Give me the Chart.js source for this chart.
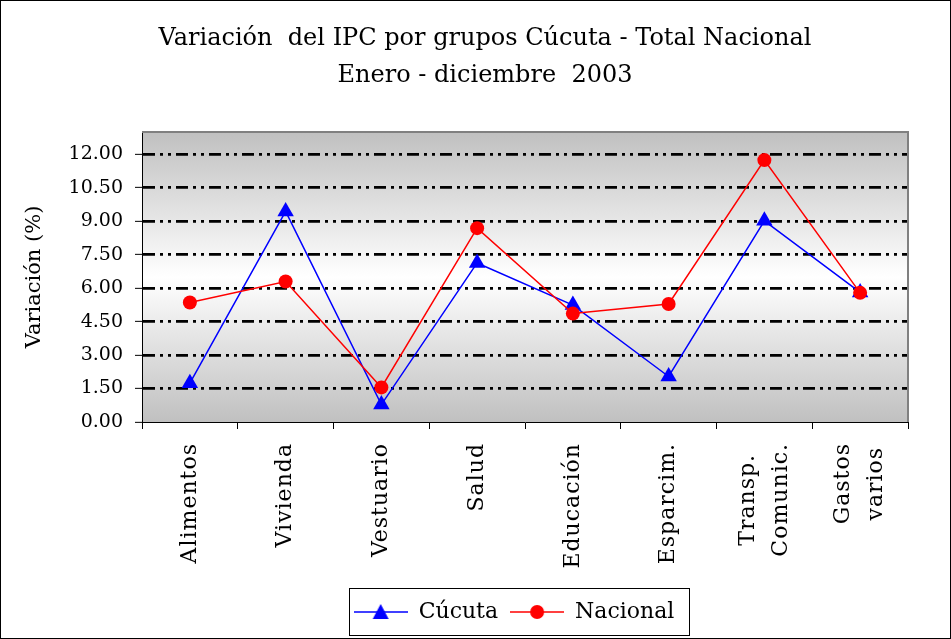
<!DOCTYPE html>
<html>
<head>
<meta charset="utf-8">
<script src="https://cdn.jsdelivr.net/npm/chart.js@4"></script>
<style>
  body { margin: 0; background: #fff; }
  canvas { display: block; }
</style>
</head>
<body>
<canvas id="myChart" width="951" height="639"></canvas>
<script>
const categories = [['Alimentos'], ['Vivienda'], ['Vestuario'], ['Salud'], ['Educación'], ['Esparcim.'], ['Transp.', 'Comunic.'], ['Gastos', 'varios']];
const cucuta = [1.74, 9.44, 0.78, 7.13, 5.24, 2.04, 9.02, 5.81];
const nacional = [5.36, 6.30, 1.55, 8.69, 4.86, 5.29, 11.74, 5.79];
const yTicks = [0, 1.5, 3, 4.5, 6, 7.5, 9, 10.5, 12];
const titleLines = ['Variación  del IPC por grupos Cúcuta - Total Nacional', 'Enero - diciembre  2003'];

const FONT = 'DejaVu Serif';
Chart.defaults.font.family = FONT;
Chart.defaults.color = '#000';

// small icons for the legend: line with the marker on it
function legendIcon(color, shape) {
    const c = document.createElement('canvas');
    c.width = 54; c.height = 20;
    const g = c.getContext('2d');
    g.strokeStyle = color;
    g.lineWidth = 1.5;
    g.beginPath(); g.moveTo(0, 10); g.lineTo(54, 10); g.stroke();
    g.fillStyle = color;
    g.beginPath();
    if (shape === 'triangle') {
        g.moveTo(27, 2); g.lineTo(35, 17); g.lineTo(19, 17); g.closePath();
    } else {
        g.arc(27, 10, 7, 0, Math.PI * 2);
    }
    g.fill();
    return c;
}
const icons = [legendIcon('#0000ff', 'triangle'), legendIcon('#ff0000', 'circle')];

const chartDeco = {
    id: 'chartDeco',
    beforeDraw(chart) {
        const {ctx, chartArea: a} = chart;
        ctx.save();
        ctx.fillStyle = '#fff';
        ctx.fillRect(0, 0, chart.width, chart.height);
        const grad = ctx.createLinearGradient(0, a.top, 0, a.bottom);
        grad.addColorStop(0, '#c0c0c0');
        grad.addColorStop(0.5, '#ffffff');
        grad.addColorStop(1, '#c0c0c0');
        ctx.fillStyle = grad;
        ctx.fillRect(a.left, a.top, a.right - a.left, a.bottom - a.top);
        ctx.restore();
    },
    beforeDatasetsDraw(chart) {
        const {ctx, chartArea: a} = chart;
        ctx.save();
        ctx.strokeStyle = '#808080';
        ctx.lineWidth = 2;
        ctx.beginPath();
        ctx.moveTo(a.left, a.top);
        ctx.lineTo(a.right, a.top);
        ctx.lineTo(a.right, a.bottom);
        ctx.stroke();
        ctx.restore();
    },
    afterLayout(chart) {
        chart.legend.left += 60;
        chart.legend.right += 60;
        chart.titleBlock.left += 31;
        chart.titleBlock.right += 31;
    },
    afterDraw(chart) {
        const {ctx} = chart;
        const xs = chart.scales.x;
        ctx.save();
        // category labels, rotated, lines centered
        ctx.fillStyle = '#000';
        ctx.font = '22px "' + FONT + '"';
        ctx.letterSpacing = '1px';
        ctx.textAlign = 'center';
        ctx.textBaseline = 'middle';
        categories.forEach((lines, i) => {
            const x = xs.getPixelForValue(i);
            const w = Math.max(...lines.map(l => ctx.measureText(l).width));
            ctx.save();
            ctx.translate(x, xs.top + 21);
            ctx.rotate(-Math.PI / 2);
            lines.forEach((l, j) => ctx.fillText(l, -w / 2, (j - (lines.length - 1) / 2) * 33));
            ctx.restore();
        });
        ctx.letterSpacing = '0px';
        // legend frame
        const hb = chart.legend.legendHitBoxes;
        const last = hb[hb.length - 1];
        const cy = hb[0].top + hb[0].height / 2;
        ctx.strokeStyle = '#000';
        ctx.lineWidth = 1;
        ctx.strokeRect(Math.round(hb[0].left - 5) + 0.5, Math.round(cy - 24) + 0.5,
            Math.round(last.left + last.width + 14 - hb[0].left + 5), 47);
        // outer frame
        ctx.strokeRect(0.5, 0.5, chart.width - 1, chart.height - 1);
        ctx.restore();
    }
};

new Chart(document.getElementById('myChart'), {
    type: 'line',
    data: {
        labels: categories,
        datasets: [{
            label: 'Cúcuta',
            data: cucuta,
            borderColor: '#0000ff',
            backgroundColor: '#0000ff',
            borderWidth: 1.5,
            pointStyle: 'triangle',
            pointRadius: 9.5,
            pointBorderWidth: 0,
            order: 1
        }, {
            label: 'Nacional',
            data: nacional,
            borderColor: '#ff0000',
            backgroundColor: '#ff0000',
            borderWidth: 1.5,
            pointStyle: 'circle',
            pointRadius: 7,
            pointBorderWidth: 0,
            order: 0
        }]
    },
    options: {
        responsive: false,
        animation: false,
        layout: { padding: { left: 0, right: 43, top: 0, bottom: 6 } },
        plugins: {
            title: {
                display: true,
                text: titleLines,
                font: { size: 24, weight: 'normal', lineHeight: 37 / 24 },
                padding: { top: 20, bottom: 38 }
            },
            legend: {
                position: 'bottom',
                labels: {
                    usePointStyle: true,
                    pointStyleWidth: 54,
                    font: { size: 22 },
                    padding: 12,
                    sort: (a, b) => a.datasetIndex - b.datasetIndex,
                    generateLabels(chart) {
                        const items = Chart.defaults.plugins.legend.labels.generateLabels(chart);
                        items.forEach(it => { it.pointStyle = icons[it.datasetIndex]; });
                        return items;
                    }
                }
            },
            tooltip: { enabled: false }
        },
        scales: {
            x: {
                offset: true,
                ticks: { display: false },
                grid: { offset: true, drawOnChartArea: false, tickLength: 7, tickColor: '#000', tickWidth: 1 },
                border: { color: '#000', width: 1 },
                afterFit(scale) { scale.height = 167; }
            },
            y: {
                min: 0,
                max: 13,
                afterBuildTicks(scale) { scale.ticks = yTicks.map(v => ({ value: v })); },
                ticks: {
                    callback: v => v.toFixed(2),
                    font: { size: 19 },
                    padding: 12
                },
                grid: {
                    color: ctx => (ctx.tick && ctx.tick.value === 0) ? 'rgba(0,0,0,0)' : '#000',
                    lineWidth: 2.7,
                    tickColor: '#000',
                    tickWidth: 1,
                    tickLength: 7
                },
                border: { color: '#000', width: 1, dash: [12, 5, 3, 5, 3, 5] },
                title: {
                    display: true,
                    text: 'Variación (%)',
                    font: { size: 21 },
                    padding: { top: 22 }
                },
                afterFit(scale) { scale.width = 142; }
            }
        }
    },
    plugins: [chartDeco]
});
</script>
</body>
</html>
